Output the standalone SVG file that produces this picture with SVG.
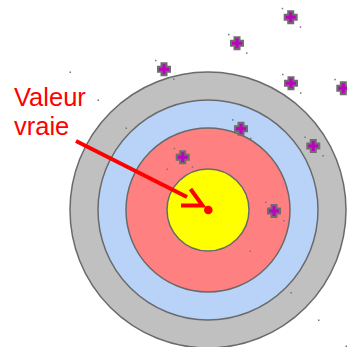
<svg xmlns="http://www.w3.org/2000/svg" width="347" height="347" viewBox="0 0 347 347">
<defs>
<style>
.ring{stroke:#6a6a6a;stroke-width:1.5}
.sp{fill:#777}
.lbl{font-family:"Liberation Sans",Arial,sans-serif;font-size:25.5px;fill:#ff0000}
</style>
<g id="plus">
<path d="M-7,0H7M0,-7V7" stroke="#6e6e6e" stroke-width="7"/>
<path d="M-5,0H5M0,-5V5" stroke="#c000c0" stroke-width="3"/>
<rect class="sp" x="-9" y="-9.5" width="1.5" height="1.5"/>
<rect class="sp" x="9" y="9" width="1.5" height="1.5"/>
</g>
</defs>
<rect width="347" height="347" fill="#fff"/>
<g id="target">
<circle class="ring" cx="208" cy="210" r="138" fill="#c0c0c0"/>
<circle class="ring" cx="208" cy="210" r="110" fill="#b9d3f8"/>
<circle class="ring" cx="208" cy="210" r="82" fill="#ff8080"/>
<circle class="ring" cx="208" cy="210" r="41" fill="#ffff00"/>
<rect class="sp" x="69.5" y="71.5" width="1.5" height="1.5"/>
<rect class="sp" x="97.5" y="99.5" width="1.5" height="1.5"/>
<rect class="sp" x="125.5" y="127.5" width="1.5" height="1.5"/>
<rect class="sp" x="166.5" y="168.5" width="1.5" height="1.5"/>
<rect class="sp" x="249.5" y="250.5" width="1.5" height="1.5"/>
<rect class="sp" x="290.5" y="292" width="1.5" height="1.5"/>
<rect class="sp" x="318" y="319.5" width="1.5" height="1.5"/>
<rect class="sp" x="345.5" y="345.5" width="1.5" height="1.5"/>
</g>
<g id="shots">
<use href="#plus" x="290.7" y="17.3"/>
<use href="#plus" x="237" y="43.3"/>
<use href="#plus" x="164" y="69.3"/>
<use href="#plus" x="291" y="83.3"/>
<use href="#plus" x="343.3" y="88.3"/>
<use href="#plus" x="241" y="128.7"/>
<use href="#plus" x="313.3" y="146"/>
<use href="#plus" x="182.7" y="157.3"/>
<use href="#plus" x="274" y="211"/>
</g>
<g id="connectors">
<line x1="76" y1="141" x2="187" y2="197" stroke="#ff0000" stroke-width="4"/>
<path d="M190.5,189 L202.5,205.5 L181,205.5" fill="none" stroke="#ff0000" stroke-width="4"/>
</g>
<g id="true-value">
<circle cx="208.3" cy="210" r="4.3" fill="#ff0000"/>
<text class="lbl" x="14" y="106">Valeur</text>
<text class="lbl" x="14" y="135">vraie</text>
</g>
</svg>
